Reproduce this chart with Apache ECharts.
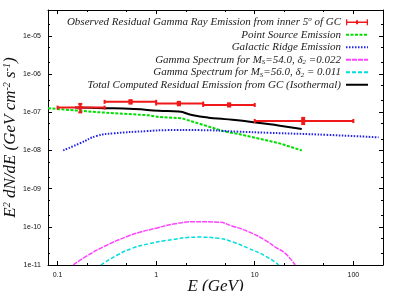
<!DOCTYPE html>
<html>
<head>
<meta charset="utf-8">
<script src="https://cdn.jsdelivr.net/npm/echarts@6/dist/echarts.min.js"></script>
<style>
html,body{margin:0;padding:0;background:#fff;}
#chart{width:402px;height:291px;}
</style>
</head>
<body>
<div id="chart"></div>
<script>
// ---------- data ----------
var binLow = [0.1, 0.3, 1, 3, 10];
var binHigh = [0.3, 1, 3, 10, 100];
var binCenter = [0.17, 0.55, 1.7, 5.5, 31];
var observedFlux = [1.32e-7, 1.87e-7, 1.69e-7, 1.55e-7, 5.9e-8];
var observedErrLow = [0.99e-7, 1.68e-7, 1.52e-7, 1.41e-7, 4.9e-8];
var observedErrHigh = [1.65e-7, 2.07e-7, 1.87e-7, 1.71e-7, 7.1e-8];

var pointSourceE = [0.08, 0.26, 0.85, 1.06, 1.8, 5.0, 6.8, 17.6, 30];
var pointSourceFlux = [1.27e-7, 1.0e-7, 8.3e-8, 7.5e-8, 7.0e-8, 3.1e-8, 2.7e-8, 1.55e-8, 1.0e-8];

var ridgeE = [0.114, 0.17, 0.25, 0.37, 0.8, 1.3, 2.7, 6.8, 13.7, 55, 180];
var ridgeFlux = [1.0e-8, 1.55e-8, 2.4e-8, 2.8e-8, 3.2e-8, 3.4e-8, 3.4e-8, 3.1e-8, 2.9e-8, 2.55e-8, 2.2e-8];

var ms54E = [0.144, 0.2, 0.3, 0.5, 0.67, 1.0, 1.5, 2.5, 4.3, 5.9, 8.6, 12.7, 16, 20.3, 25.7];
var ms54Flux = [1e-11, 1.75e-11, 3.1e-11, 5.5e-11, 7.1e-11, 9.2e-11, 1.18e-10, 1.36e-10, 1.32e-10, 1.05e-10, 7.5e-11, 4.5e-11, 3.0e-11, 2.04e-11, 1e-11];

var ms56E = [0.275, 0.4, 0.574, 0.85, 1.25, 2.71, 4.3, 6, 8.6, 12.7, 17.6];
var ms56Flux = [1e-11, 1.8e-11, 2.75e-11, 3.6e-11, 4.36e-11, 5.37e-11, 5.0e-11, 4.0e-11, 2.75e-11, 1.74e-11, 1e-11];

var totalE = [0.15, 0.3, 0.6, 1.06, 1.7, 2.3, 3.4, 5, 9.7, 17.3, 30];
var totalFlux = [1.32e-7, 1.28e-7, 1.21e-7, 1.1e-7, 1.04e-7, 8.5e-8, 7.2e-8, 6.6e-8, 5.5e-8, 4.5e-8, 3.66e-8];

var xMajor = [0.1, 1, 10, 100];
var xTickLabels = ['0.1', '1', '10', '100'];
var xMinor = [0.2, 0.5, 2, 5, 20, 50];
var yMajor = [1e-11, 1e-10, 1e-9, 1e-8, 1e-7, 1e-6, 1e-5];
var yTickLabels = ['1e-11', '1e-10', '1e-09', '1e-08', '1e-07', '1e-06', '1e-05'];
var yMinor = [2e-11, 5e-11, 2e-10, 5e-10, 2e-9, 5e-9, 2e-8, 5e-8, 2e-7, 5e-7, 2e-6, 5e-6, 2e-5];

var seriesNames = [
  'Observed Residual Gamma Ray Emission from inner 5o of GC',
  'Point Source Emission',
  'Galactic Ridge Emission',
  'Gamma Spectrum for MS=54.0, d2 =0.022',
  'Gamma Spectrum for MS=56.0, d2 = 0.011',
  'Total Computed Residual Emission from GC (Isothermal)'
];
var legendRich = {};
legendRich[seriesNames[0]] = 'Observed Residual Gamma Ray Emission from inner 5{sup|o} of GC';
legendRich[seriesNames[1]] = 'Point Source Emission';
legendRich[seriesNames[2]] = 'Galactic Ridge Emission';
legendRich[seriesNames[3]] = 'Gamma Spectrum for M{sub|S}=54.0, \u03b4{sub|2} =0.022';
legendRich[seriesNames[4]] = 'Gamma Spectrum for M{sub|S}=56.0, \u03b4{sub|2} = 0.011';
legendRich[seriesNames[5]] = 'Total Computed Residual Emission from GC (Isothermal)';

// ---------- helpers ----------
function pairs(xs, ys) { return xs.map(function (x, i) { return [x, ys[i]]; }); }
function labelFor(v, majors, labels) {
  for (var i = 0; i < majors.length; i++) {
    if (Math.abs(Math.log10(v) - Math.log10(majors[i])) < 1e-6) return labels[i];
  }
  return '';
}
var obsData = binCenter.map(function (x, i) {
  return [x, observedFlux[i], binLow[i], binHigh[i], observedErrLow[i], observedErrHigh[i]];
});

var RED = '#f01818';
var serifFont = '"Liberation Serif", "DejaVu Serif", serif';
var sansFont = '"Liberation Sans", Arial, sans-serif';

function xAxisDef(pos, major, showLine) {
  return {
    type: 'log', logBase: 10, min: 0.08, max: 200, position: pos,
    axisLine: { show: showLine, onZero: false, lineStyle: { color: '#000', width: 1 } },
    axisTick: { show: true, inside: true, length: major ? 4 : 2, customValues: major ? xMajor : xMinor,
      lineStyle: { color: '#000', width: 1 } },
    axisLabel: { show: major && pos === 'bottom', customValues: xMajor, margin: 7,
      fontSize: 7, fontFamily: sansFont, color: '#111',
      formatter: function (v) { return labelFor(v, xMajor, xTickLabels); } },
    splitLine: { show: false }, minorTick: { show: false }
  };
}
function yAxisDef(pos, major, showLine) {
  return {
    type: 'log', logBase: 10, min: 1e-11, max: 4.75e-5, position: pos,
    axisLine: { show: showLine, onZero: false, lineStyle: { color: '#000', width: 1 } },
    axisTick: { show: true, inside: true, length: major ? 4 : 2, customValues: major ? yMajor : yMinor,
      lineStyle: { color: '#000', width: 1 } },
    axisLabel: { show: major && pos === 'left', customValues: yMajor, margin: 7,
      fontSize: 7, fontFamily: sansFont, color: '#111',
      formatter: function (v) { return labelFor(v, yMajor, yTickLabels); } },
    splitLine: { show: false }, minorTick: { show: false }
  };
}

var xAxes = [xAxisDef('bottom', true, true), xAxisDef('bottom', false, false), xAxisDef('top', true, true), xAxisDef('top', false, false)];
var yAxes = [yAxisDef('left', true, true), yAxisDef('left', false, false), yAxisDef('right', true, true), yAxisDef('right', false, false)];

xAxes[0].name = 'E (GeV)';
xAxes[0].nameLocation = 'middle';
xAxes[0].nameGap = 13;
xAxes[0].nameMoveOverlap = false;
xAxes[0].nameTextStyle = { fontFamily: serifFont, fontStyle: 'italic', fontSize: 17, color: '#111', verticalAlign: 'top' };

yAxes[0].name = 'E{sup|2} dN/dE (GeV cm{sup|-2} s{sup|-1})';
yAxes[0].nameLocation = 'middle';
yAxes[0].nameGap = 29;
yAxes[0].nameMoveOverlap = false;
yAxes[0].nameTextStyle = {
  fontFamily: serifFont, fontStyle: 'italic', fontSize: 17, color: '#111', lineHeight: 17,
  rich: { sup: { fontFamily: serifFont, fontStyle: 'italic', fontSize: 10, color: '#111', verticalAlign: 'top', lineHeight: 17 } }
};

var lineSeries = function (name, xs, ys, color, width, dash, smooth) {
  return {
    name: name, type: 'line', data: pairs(xs, ys), xAxisIndex: 0, yAxisIndex: 0,
    showSymbol: false, symbol: 'none', smooth: smooth, clip: true,
    lineStyle: { color: color, width: width, type: dash },
    itemStyle: { color: color }, z: 3
  };
};

var option = {
  animation: false,
  backgroundColor: '#fff',
  grid: { left: 48, right: 19, top: 10, bottom: 26, containLabel: false, outerBoundsMode: 'none' },
  legend: {
    orient: 'vertical', align: 'right', right: 28, top: 11,
    itemWidth: 22, itemHeight: 8, itemGap: 0,
    itemStyle: { opacity: 0 },
    textStyle: {
      fontFamily: serifFont, fontStyle: 'italic', fontSize: 11, color: '#222', lineHeight: 12.5,
      rich: {
        sup: { fontFamily: serifFont, fontStyle: 'italic', fontSize: 7, color: '#222', verticalAlign: 'top', lineHeight: 12.5 },
        sub: { fontFamily: serifFont, fontStyle: 'italic', fontSize: 7, color: '#222', verticalAlign: 'bottom', lineHeight: 8 }
      }
    },
    formatter: function (n) { return legendRich[n]; },
    data: [
      { name: seriesNames[0], icon: 'path://M0,4.2H22V5.8H0Z M0,2H1.3V8H0Z M20.7,2H22V8H20.7Z M10,3H12V7H10Z', itemStyle: { opacity: 1, color: RED } },
      seriesNames[1], seriesNames[2], seriesNames[3], seriesNames[4], seriesNames[5]
    ]
  },
  xAxis: xAxes,
  yAxis: yAxes,
  series: [
    {
      name: seriesNames[0], type: 'custom', xAxisIndex: 0, yAxisIndex: 0, data: obsData, z: 5,
      itemStyle: { color: RED },
      renderItem: function (params, api) {
        var xc = api.value(0), y = api.value(1), xl = api.value(2), xh = api.value(3), yl = api.value(4), yh = api.value(5);
        var pc = api.coord([xc, y]), pl = api.coord([xl, y]), ph = api.coord([xh, y]);
        var pyl = api.coord([xc, yl]), pyh = api.coord([xc, yh]);
        var st = { stroke: RED, lineWidth: 2, fill: null };
        var cap = 2;
        return {
          type: 'group',
          children: [
            { type: 'line', shape: { x1: pl[0], y1: pl[1], x2: ph[0], y2: ph[1] }, style: st },
            { type: 'line', shape: { x1: pl[0], y1: pl[1] - cap, x2: pl[0], y2: pl[1] + cap }, style: st },
            { type: 'line', shape: { x1: ph[0], y1: ph[1] - cap, x2: ph[0], y2: ph[1] + cap }, style: st },
            { type: 'line', shape: { x1: pc[0], y1: pyl[1], x2: pc[0], y2: pyh[1] }, style: st },
            { type: 'line', shape: { x1: pc[0] - cap, y1: pyl[1], x2: pc[0] + cap, y2: pyl[1] }, style: st },
            { type: 'line', shape: { x1: pc[0] - cap, y1: pyh[1], x2: pc[0] + cap, y2: pyh[1] }, style: st },
            { type: 'rect', shape: { x: pc[0] - 2, y: pc[1] - 2, width: 4, height: 4 }, style: { fill: RED } }
          ]
        };
      }
    },
    lineSeries(seriesNames[1], pointSourceE, pointSourceFlux, '#00e000', 2, [3, 1.5], false),
    lineSeries(seriesNames[2], ridgeE, ridgeFlux, '#2222ee', 2, [1.5, 1.5], true),
    lineSeries(seriesNames[3], ms54E, ms54Flux, '#ff44ff', 1.5, [5, 1], true),
    lineSeries(seriesNames[4], ms56E, ms56Flux, '#00dddd', 1.5, [4, 2], true),
    lineSeries(seriesNames[5], totalE, totalFlux, '#000000', 2, 'solid', true)
  ]
};

var chart = echarts.init(document.getElementById('chart'), null, { renderer: 'canvas' });
chart.setOption(option);
</script>
</body>
</html>
